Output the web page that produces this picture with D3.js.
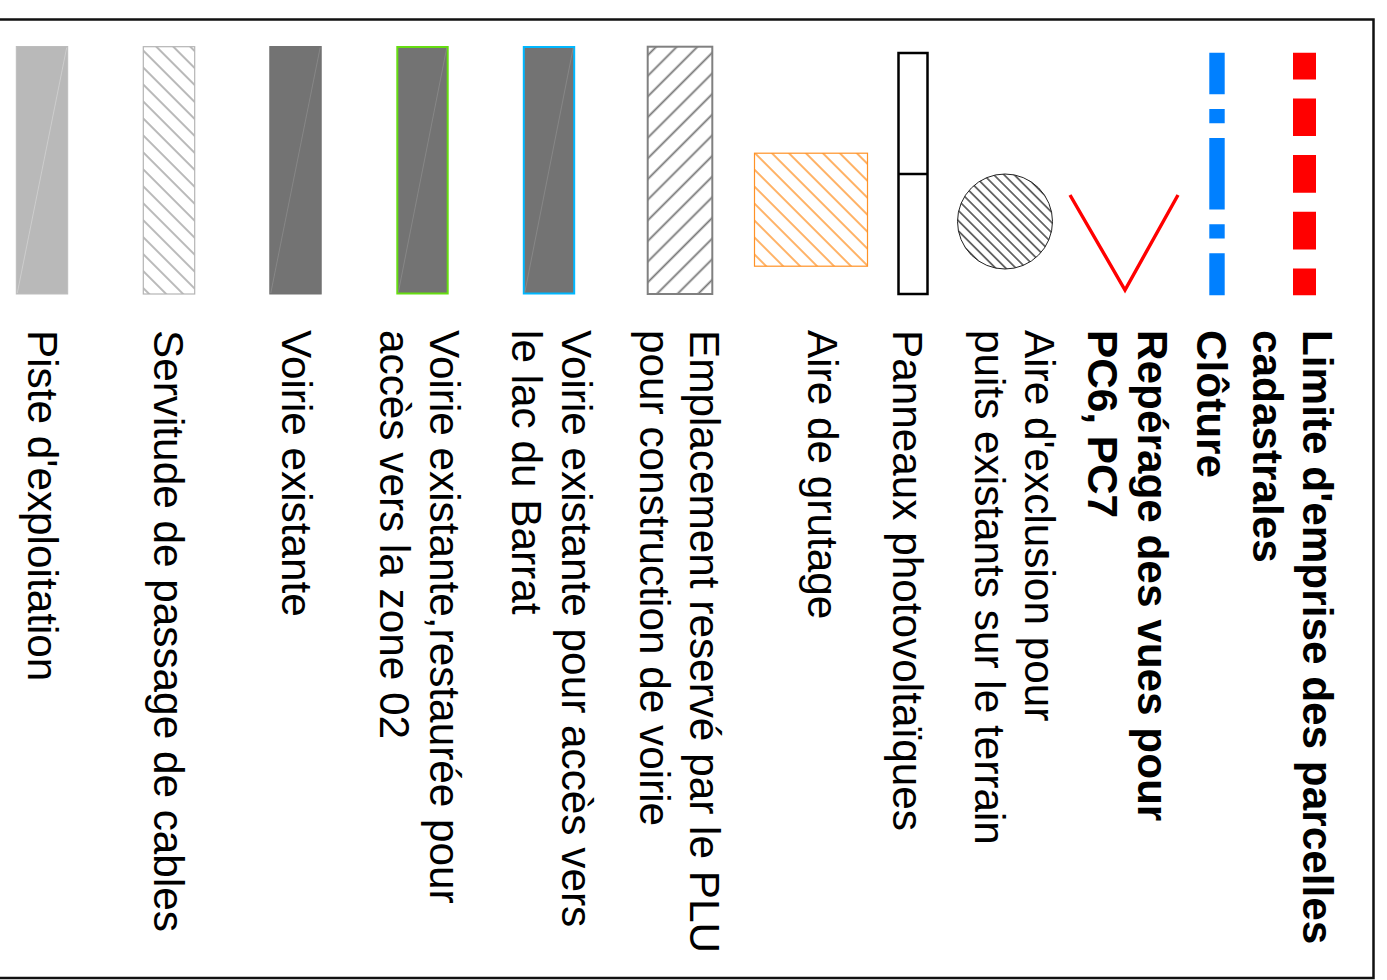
<!DOCTYPE html>
<html>
<head>
<meta charset="utf-8">
<script src="https://cdn.jsdelivr.net/npm/d3@7"></script>
<style>
  body { margin: 0; background: #fff; }
  svg { display: block; }
</style>
</head>
<body>
<div id="chart"></div>
<script>
// legend entries, top to bottom (the whole legend is drawn turned a quarter turn)
const items = ["limite", "cloture", "reperage", "exclusion", "panneaux", "grutage",
               "emplacement", "voirieLac", "voirieZone", "voirie", "servitude", "piste"];

const labels = [
  ["Limite d'emprise des parcelles", "cadastrales"],
  ["Clôture"],
  ["Repérage des vues pour", "PC6, PC7"],
  ["Aire d'exclusion pour", "puits existants sur le terrain"],
  ["Panneaux photovoltaïques"],
  ["Aire de grutage"],
  ["Emplacement reservé par le PLU", "pour construction de voirie"],
  ["Voirie existante pour accès vers", "le lac du Barrat"],
  ["Voirie existante,restaurée pour", "accès vers la zone 02"],
  ["Voirie existante"],
  ["Servitude de passage de cables"],
  ["Piste d'exploitation"]
];

const boldItems = ["limite", "cloture", "reperage"];

const symbols = ["dash", "dashdot", "vee", "circle", "panel", "hatchSquare",
                 "hatchBar", "bar", "bar", "bar", "hatchBar", "bar"];

// ---- layout ----
const width = 1387;
const height = 980;
const frameRight = 1374;

// row positions along the (rotated) legend
const rowCenter = d3.scaleOrdinal()
    .domain(items)
    .range([69.5, 157, 250, 369, 461, 563, 694, 825, 951.5, 1078.5, 1205, 1332]);
const rowBaseline = d3.scaleOrdinal()
    .domain(items)
    .range([71, 177, 236, 349, 481, 566, 684, 812, 944, 1092, 1220, 1346]);

const textX = 330;
const lineHeight = 50;

const svg = d3.select("#chart").append("svg")
    .attr("width", width)
    .attr("height", height)
    .attr("viewBox", [0, 0, width, height]);

const defs = svg.append("defs");

function hatch(id, size, angle, color, w) {
  defs.append("pattern")
      .attr("id", id)
      .attr("patternUnits", "userSpaceOnUse")
      .attr("width", size)
      .attr("height", size)
      .attr("patternTransform", `rotate(${angle})`)
    .append("line")
      .attr("x1", size / 2).attr("y1", 0)
      .attr("x2", size / 2).attr("y2", size)
      .attr("stroke", color)
      .attr("stroke-width", w);
}
hatch("hatch-serv", 12, 45, "#949494", 1.3);
hatch("hatch-empl", 14.6, -45, "#767676", 1.8);
hatch("hatch-grut", 12, 45, "#ff7f00", 1.2);
hatch("hatch-circ", 7.2, 45, "#000", 1.1);

const g = svg.append("g")
    .attr("transform", `translate(${frameRight},0) rotate(90)`);

// frame (its far side runs off the page)
g.append("rect")
    .attr("x", 19.5)
    .attr("y", 0.5)
    .attr("width", 958.5)
    .attr("height", 1420)
    .attr("fill", "none")
    .attr("stroke", "#111")
    .attr("stroke-width", 2.5);

const barStyle = {
  voirieLac:  { fill: "#737373", stroke: "#00b7ff", sw: 2, diag: "#8c8c8c" },
  voirieZone: { fill: "#737373", stroke: "#66dd11", sw: 2, diag: "#8c8c8c" },
  voirie:     { fill: "#737373", stroke: "#737373", sw: 1, diag: "#8c8c8c" },
  piste:      { fill: "#b9b9b9", stroke: "#bdbdbd", sw: 1, diag: "#d2d2d2" }
};

items.forEach((id, i) => {
  const c = rowCenter(id);
  const kind = symbols[i];
  const s = g.append("g");

  if (kind === "dash") {
    s.append("line")
        .attr("x1", 52.7).attr("x2", 295.3)
        .attr("y1", c).attr("y2", c)
        .attr("stroke", "#ff0000")
        .attr("stroke-width", 23)
        .attr("stroke-dasharray", "37.7 19")
        .attr("stroke-dashoffset", 11);
  } else if (kind === "dashdot") {
    s.append("line")
        .attr("x1", 52.7).attr("x2", 295.3)
        .attr("y1", c).attr("y2", c)
        .attr("stroke", "#0080ff")
        .attr("stroke-width", 15.4)
        .attr("stroke-dasharray", "71.6 14.7 14.3 14.7")
        .attr("stroke-dashoffset", 30);
  } else if (kind === "vee") {
    s.append("path")
        .attr("d", d3.line()([[195, c + 54], [290, c - 1], [195, c - 54]]))
        .attr("fill", "none")
        .attr("stroke", "#ff0000")
        .attr("stroke-width", 3.4);
  } else if (kind === "circle") {
    s.append("circle")
        .attr("cx", 221.5).attr("cy", c).attr("r", 47.5)
        .attr("fill", "url(#hatch-circ)")
        .attr("stroke", "#222")
        .attr("stroke-width", 1);
  } else if (kind === "panel") {
    s.append("rect")
        .attr("x", 53).attr("y", c - 14.5)
        .attr("width", 241).attr("height", 29)
        .attr("fill", "none")
        .attr("stroke", "#000")
        .attr("stroke-width", 2.5);
    s.append("line")
        .attr("x1", 174).attr("x2", 174)
        .attr("y1", c - 14.5).attr("y2", c + 14.5)
        .attr("stroke", "#000")
        .attr("stroke-width", 2.5);
  } else if (kind === "hatchSquare") {
    s.append("rect")
        .attr("x", 153.2).attr("y", c - 56.5)
        .attr("width", 113).attr("height", 113)
        .attr("fill", "url(#hatch-grut)")
        .attr("stroke", "#ff9226")
        .attr("stroke-width", 1.2);
  } else if (kind === "hatchBar") {
    const empl = id === "emplacement";
    const t = empl ? 64.6 : 51.4;
    s.append("rect")
        .attr("x", 46.7).attr("y", c - t / 2)
        .attr("width", 247.3).attr("height", t)
        .attr("fill", empl ? "url(#hatch-empl)" : "url(#hatch-serv)")
        .attr("stroke", empl ? "#808080" : "#b4b4b4")
        .attr("stroke-width", empl ? 2 : 1.2);
  } else {
    const st = barStyle[id];
    const t = 52.4 - st.sw;
    const x0 = 46 + st.sw / 2, x1 = 294.5 - st.sw / 2;
    s.append("rect")
        .attr("x", x0).attr("y", c - t / 2)
        .attr("width", x1 - x0).attr("height", t)
        .attr("fill", st.fill)
        .attr("stroke", st.stroke)
        .attr("stroke-width", st.sw);
    s.append("line")
        .attr("x1", x0 + 1).attr("y1", c - t / 2 + 1)
        .attr("x2", x1 - 1).attr("y2", c + t / 2 - 1)
        .attr("stroke", st.diag)
        .attr("stroke-width", 0.8);
  }

  const text = g.append("text")
      .attr("x", textX)
      .attr("y", rowBaseline(id))
      .attr("font-family", "'Liberation Sans', Arial, sans-serif")
      .attr("font-size", 42.3)
      .attr("font-weight", boldItems.includes(id) ? "bold" : "normal")
      .attr("fill", "#000");
  text.selectAll("tspan")
    .data(labels[i])
    .join("tspan")
      .attr("x", textX)
      .attr("dy", (d, j) => j === 0 ? 0 : lineHeight)
      .text(d => d);
});
</script>
</body>
</html>
